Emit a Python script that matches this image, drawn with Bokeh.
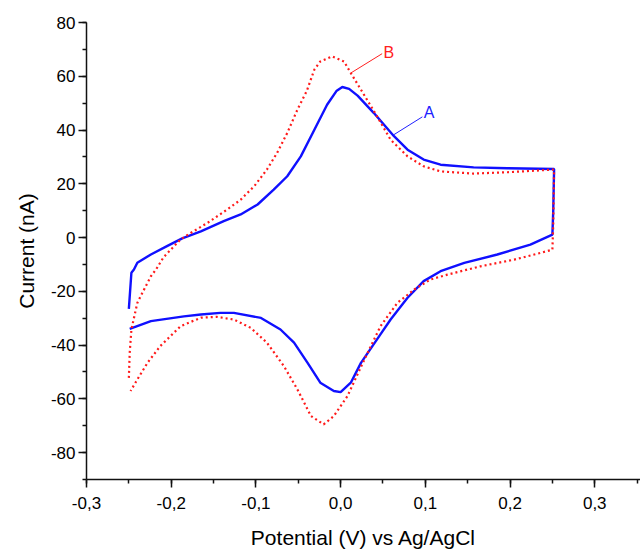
from bokeh.plotting import figure
from bokeh.models import FixedTicker, CustomJSTickFormatter, Range1d, ColumnDataSource
from bokeh.core.properties import value
from bokeh.embed import file_html
from bokeh.resources import INLINE

# Curve A (solid blue): anodic sweep, switch at +0.25 V, cathodic sweep
a_x = [-0.250, -0.247, -0.244, -0.240, -0.224, -0.205, -0.187, -0.165, -0.138, -0.118,
       -0.098, -0.079, -0.063, -0.047, -0.031, -0.016, -0.005, 0.002, 0.010, 0.020,
       0.039, 0.063, 0.079, 0.098, 0.118, 0.157, 0.197, 0.252,
       0.251, 0.250,
       0.224, 0.185, 0.146, 0.118, 0.098, 0.079, 0.059, 0.047, 0.024, 0.012,
       0.000, -0.008, -0.024, -0.039, -0.055, -0.071, -0.094, -0.126, -0.142, -0.165,
       -0.185, -0.224, -0.249]
a_y = [-26.5, -13.1, -11.9, -9.4, -6.3, -3.2, -0.3, 2.3, 6.1, 8.6,
       12.3, 17.8, 22.8, 30.2, 40.1, 49.4, 54.5, 56.0, 55.3, 52.8,
       46.4, 37.7, 32.7, 29.0, 27.1, 26.1, 25.8, 25.5,
       10.0, 1.1,
       -2.6, -6.3, -9.4, -12.5, -16.2, -22.4, -30.5, -36.0, -46.6, -54.0,
       -57.5, -57.1, -54.0, -46.6, -39.1, -34.2, -29.9, -28.0, -28.0, -28.6,
       -29.3, -31.1, -34.0]

# Curve B (dotted red)
b_x = [-0.250, -0.249, -0.247, -0.240, -0.232, -0.224, -0.218, -0.209, -0.189, -0.177,
       -0.157, -0.134, -0.118, -0.102, -0.087, -0.075, -0.063, -0.051, -0.040, -0.031,
       -0.024, -0.010, 0.004, 0.012, 0.024, 0.043, 0.059, 0.079, 0.098, 0.118,
       0.157, 0.197, 0.252,
       0.251, 0.250,
       0.236, 0.205, 0.165, 0.126, 0.106, 0.087, 0.067, 0.047, 0.028, 0.008,
       -0.008, -0.020, -0.035, -0.051, -0.067, -0.087, -0.106, -0.126, -0.146, -0.165,
       -0.189, -0.213, -0.228, -0.240, -0.248]
b_y = [-52.2, -42.9, -34.2, -24.3, -19.3, -14.4, -11.9, -7.3, -0.7, 1.7,
       5.5, 10.4, 14.1, 19.1, 25.3, 31.5, 38.9, 47.6, 54.5, 62.5,
       65.5, 67.4, 65.5, 61.2, 55.0, 45.1, 36.4, 30.2, 26.5, 24.6,
       23.8, 24.3, 25.3,
       5.0, -4.5,
       -5.7, -8.2, -10.7, -13.8, -15.6, -19.3, -24.3, -33.0, -45.4, -59.0,
       -66.4, -69.5, -66.4, -56.5, -47.8, -39.1, -33.6, -30.5, -29.5, -29.8,
       -33.0, -40.4, -46.6, -52.8, -57.1]

# Curve labels and their leader lines
label_text = ["B", "A"]
label_x = [0.0505, 0.098]
label_y = [69.0, 46.7]
label_color = ["#ff2020", "#2020ff"]
leader_x0 = [0.012, 0.063]
leader_y0 = [61.2, 38.3]
leader_x1 = [0.049, 0.0965]
leader_y1 = [68.4, 44.9]

x_major = [-0.3, -0.2, -0.1, 0.0, 0.1, 0.2, 0.3]
x_minor = [-0.3, -0.25, -0.2, -0.15, -0.1, -0.05, 0.0, 0.05, 0.1, 0.15, 0.2, 0.25, 0.3, 0.35]
y_major = [-80, -60, -40, -20, 0, 20, 40, 60, 80]
y_minor = [-90, -80, -70, -60, -50, -40, -30, -20, -10, 0, 10, 20, 30, 40, 50, 60, 70, 80]

FONT = "Liberation Sans"

p = figure(width=640, height=551,
           x_range=Range1d(-0.3, 0.354), y_range=Range1d(-90, 80),
           output_backend="svg", toolbar_location=None,
           min_border_left=86, min_border_top=22, min_border_right=0, min_border_bottom=71)
p.outline_line_color = None
p.xgrid.visible = False
p.ygrid.visible = False
p.background_fill_color = "white"
p.border_fill_color = "white"

p.line(a_x, a_y, line_color="#1010ff", line_width=2.4)
p.line(b_x, b_y, line_color="#ff1a1a", line_width=2.2, line_dash="2 3")

for i in range(len(label_text)):
    p.segment(x0=[leader_x0[i]], y0=[leader_y0[i]], x1=[leader_x1[i]], y1=[leader_y1[i]],
              line_color=label_color[i], line_width=1)

src = ColumnDataSource(dict(x=label_x, y=label_y, t=label_text, c=label_color))
p.text(x="x", y="y", text="t", text_color="c", source=src,
       text_font=value(FONT), text_font_size="16px",
       text_align="left", text_baseline="middle")

xfmt = CustomJSTickFormatter(code="""
if (Math.abs(tick) < 1e-9) { return '0,0'; }
return tick.toFixed(1).replace('.', ',');
""")
yfmt = CustomJSTickFormatter(code="""
if (Math.abs(tick) < 1e-9) { return '0'; }
return tick.toFixed(0);
""")

for ax in (p.xaxis[0], p.yaxis[0]):
    ax.axis_line_color = "#111111"
    ax.axis_line_width = 1.5
    ax.major_tick_line_color = "#111111"
    ax.minor_tick_line_color = "#111111"
    ax.major_tick_line_width = 1.5
    ax.minor_tick_line_width = 1.5
    ax.major_tick_in = 0
    ax.major_tick_out = 8
    ax.minor_tick_in = 0
    ax.minor_tick_out = 4
    ax.major_label_text_font = FONT
    ax.major_label_text_font_size = "17px"
    ax.major_label_text_color = "#000000"
    ax.axis_label_text_font = FONT
    ax.axis_label_text_font_size = "21px"
    ax.axis_label_text_font_style = "normal"
    ax.axis_label_text_color = "#000000"

p.xaxis[0].ticker = FixedTicker(ticks=x_major, minor_ticks=x_minor)
p.xaxis[0].formatter = xfmt
p.xaxis[0].axis_label = "Potential (V) vs Ag/AgCl"
p.xaxis[0].major_label_standoff = 9
p.xaxis[0].axis_label_standoff = 14

p.yaxis[0].ticker = FixedTicker(ticks=y_major, minor_ticks=y_minor)
p.yaxis[0].formatter = yfmt
p.yaxis[0].axis_label = "Current (nA)"
p.yaxis[0].major_label_standoff = 3
p.yaxis[0].axis_label_standoff = 10

open("out.html", "w").write(file_html(p, INLINE))
